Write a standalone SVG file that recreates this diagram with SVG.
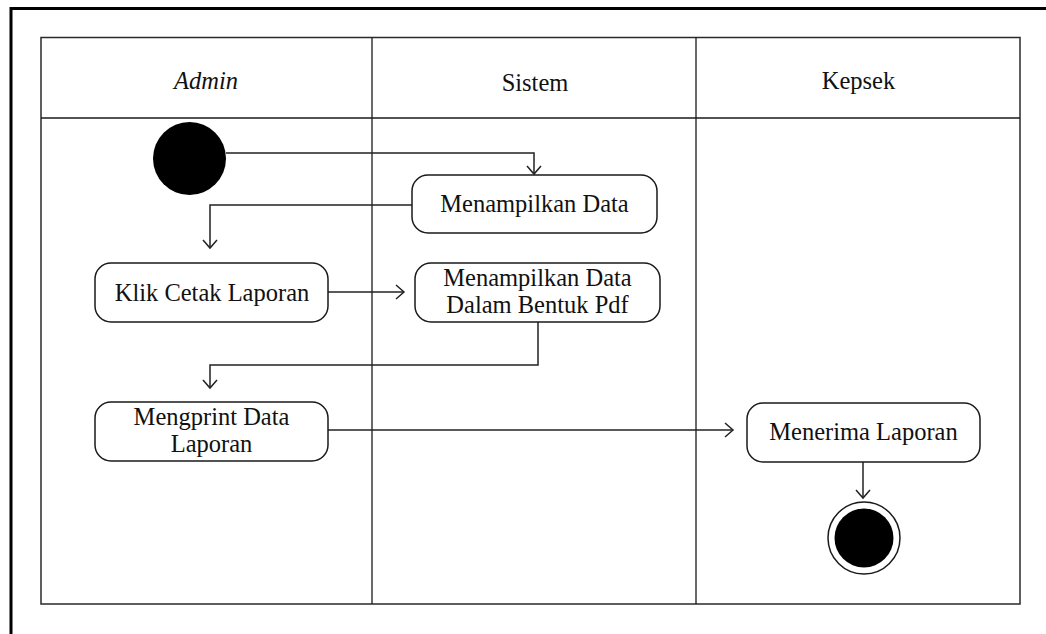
<svg xmlns="http://www.w3.org/2000/svg" width="1046" height="634" viewBox="0 0 1046 634">
  <style>
    .frame { fill: #ffffff; stroke: #2a2a2a; stroke-width: 1.5; }
    .lane { stroke: #1a1a1a; stroke-width: 1.3; fill: none; }
    .node { fill: #ffffff; stroke: #1a1a1a; stroke-width: 1.5; }
    .label { font-family: "Liberation Serif", "Times New Roman", serif; font-size: 24.5px; fill: #111111; text-anchor: middle; }
    .head { font-family: "Liberation Serif", "Times New Roman", serif; font-size: 24.5px; fill: #111111; text-anchor: middle; }
    .edge { fill: none; stroke: #222222; stroke-width: 1.5; marker-end: url(#open); }
  </style>
  <defs>
    <marker id="open" markerUnits="userSpaceOnUse" markerWidth="20" markerHeight="20" viewBox="-10 -10 20 20" refX="0" refY="0" orient="auto">
      <path d="M-8,-7 L0,0 L-8,7" fill="none" stroke="#222222" stroke-width="1.5"/>
    </marker>
  </defs>

  <rect width="1046" height="634" fill="#ffffff"/>

  <!-- page border -->
  <rect x="11" y="8.5" width="1100" height="700" fill="none" stroke="#000000" stroke-width="3"/>

  <!-- swimlane frame -->
  <g id="swimlanes">
    <rect x="41" y="37.5" width="979" height="566.5" class="frame"/>
    <line x1="41" y1="118" x2="1020" y2="118" class="lane"/>
    <line x1="372" y1="37.5" x2="372" y2="604" class="lane"/>
    <line x1="696" y1="37.5" x2="696" y2="604" class="lane"/>
    <text x="206" y="89" class="head" font-style="italic">Admin</text>
    <text x="535" y="91" class="head">Sistem</text>
    <text x="858.5" y="89" class="head">Kepsek</text>
  </g>

  <!-- connectors -->
  <g id="connectors">
    <path d="M226,153 H534 V174" class="edge"/>
    <path d="M412,205 H210 V248" class="edge"/>
    <path d="M328,292 H404" class="edge"/>
    <path d="M538,322 V365 H210 V388" class="edge"/>
    <path d="M328,430 H733" class="edge"/>
    <path d="M863,462 V498" class="edge"/>
  </g>

  <g id="start">
    <circle cx="189.5" cy="158.5" r="36.5" fill="#000000"/>
  </g>

  <g id="menampilkan-data">
    <rect x="412" y="175" width="245" height="58" rx="16" class="node"/>
    <text x="534.5" y="212" class="label">Menampilkan Data</text>
  </g>

  <g id="klik-cetak-laporan">
    <rect x="95" y="263" width="233" height="59" rx="16" class="node"/>
    <text x="212" y="301" class="label">Klik Cetak Laporan</text>
  </g>

  <g id="menampilkan-pdf">
    <rect x="415" y="263" width="245" height="59" rx="16" class="node"/>
    <text x="537.5" y="286" class="label">Menampilkan Data</text>
    <text x="537.5" y="313" class="label">Dalam Bentuk Pdf</text>
  </g>

  <g id="mengprint-data">
    <rect x="95" y="402" width="233" height="59" rx="16" class="node"/>
    <text x="211.5" y="425" class="label">Mengprint Data</text>
    <text x="211.5" y="452" class="label">Laporan</text>
  </g>

  <g id="menerima-laporan">
    <rect x="747" y="403" width="233" height="59" rx="16" class="node"/>
    <text x="863.5" y="440" class="label">Menerima Laporan</text>
  </g>

  <g id="end">
    <circle cx="864" cy="538" r="36" fill="#ffffff" stroke="#1a1a1a" stroke-width="1.5"/>
    <circle cx="864" cy="538" r="29.5" fill="#000000"/>
  </g>
</svg>
